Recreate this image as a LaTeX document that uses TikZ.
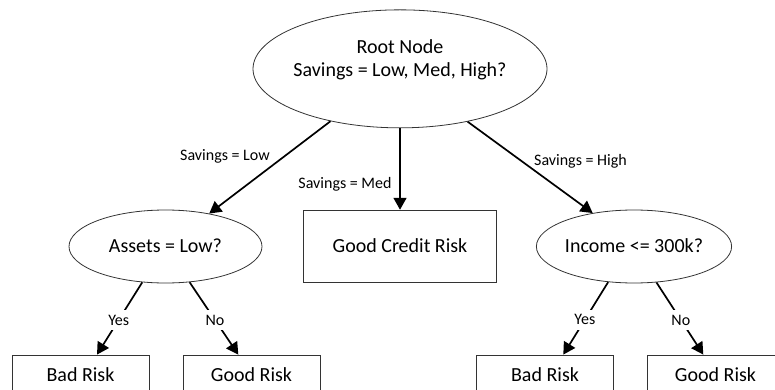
\documentclass[tikz,border=0pt]{standalone}
\usepackage{fontspec}
\setmainfont{Carlito}
\usetikzlibrary{arrows.meta,shapes.geometric}
\begin{document}
\begin{tikzpicture}[x=1pt,y=-1pt,
  shapeline/.style={draw=black!80, line width=0.8pt},
  bigtext/.style={font=\fontsize{20pt}{23.3pt}\selectfont, text height=12.9pt, text depth=0pt},
  decision/.style={shapeline, ellipse, inner sep=0pt, bigtext},
  leaf/.style={shapeline, rectangle, inner sep=0pt, bigtext},
  edge/.style={line width=1.7pt, -{Triangle[length=12pt,width=13pt]}},
  edgelabel/.style={font=\fontsize{16pt}{19pt}\selectfont, inner sep=0pt, anchor=base},
  branch/.style={font=\fontsize{16pt}{19pt}\selectfont, fill=white,
    text height=10.3pt, text depth=0pt, inner xsep=1.5pt, inner ysep=5pt, pos=0.52},
]
\clip (0,0) rectangle (775,390);

% decision nodes
\node[decision, minimum width=294pt, minimum height=118pt,
  label={[bigtext, align=center, yshift=-1.35pt]center:Root Node\\Savings = Low, Med, High?}]
  (root) at (400,68.85) {};
\node[decision, minimum width=193pt, minimum height=73pt] (assets) at (165.5,246.5) {Assets = Low?};
\node[decision, minimum width=192pt, minimum height=73pt] (income) at (634,246.5) {Income <= 300k?};

% leaves
\node[leaf, minimum width=193.4pt, minimum height=72.3pt] (credit) at (400,246.3) {Good Credit Risk};
\node[leaf, minimum width=137pt, minimum height=40pt] (bad1) at (80.5,375) {Bad Risk};
\node[leaf, minimum width=137pt, minimum height=40pt] (good1) at (251.5,375) {Good Risk};
\node[leaf, minimum width=137pt, minimum height=40pt] (bad2) at (545,375) {Bad Risk};
\node[leaf, minimum width=137pt, minimum height=40pt] (good2) at (715.5,375) {Good Risk};

% branches from the root
\draw[edge] (root.217.6) -- (assets.37);
\draw[edge] (root.south) -- (credit.north);
\draw[edge] (root.322.5) -- (income.141.7);

\node[edgelabel] (lowlbl) at (225,160.7) {Savings = Low};
\node[edgelabel] (medlbl) at (345,188.3) {Savings = Med};
\node[edgelabel] (highlbl) at (580.5,165.5) {Savings = High};

% second-level branches
\draw[edge] (assets.237.1) -- node[branch] (yes1) {Yes} ([xshift=16.5pt]bad1.north);
\draw[edge] (assets.304.8) -- node[branch] (no1) {No} ([xshift=-13.2pt]good1.north);
\draw[edge] (income.234.9) -- node[branch] (yes2) {Yes} ([xshift=18.3pt]bad2.north);
\draw[edge] (income.302.8) -- node[branch] (no2) {No} ([xshift=-12.2pt]good2.north);
\end{tikzpicture}
\end{document}
